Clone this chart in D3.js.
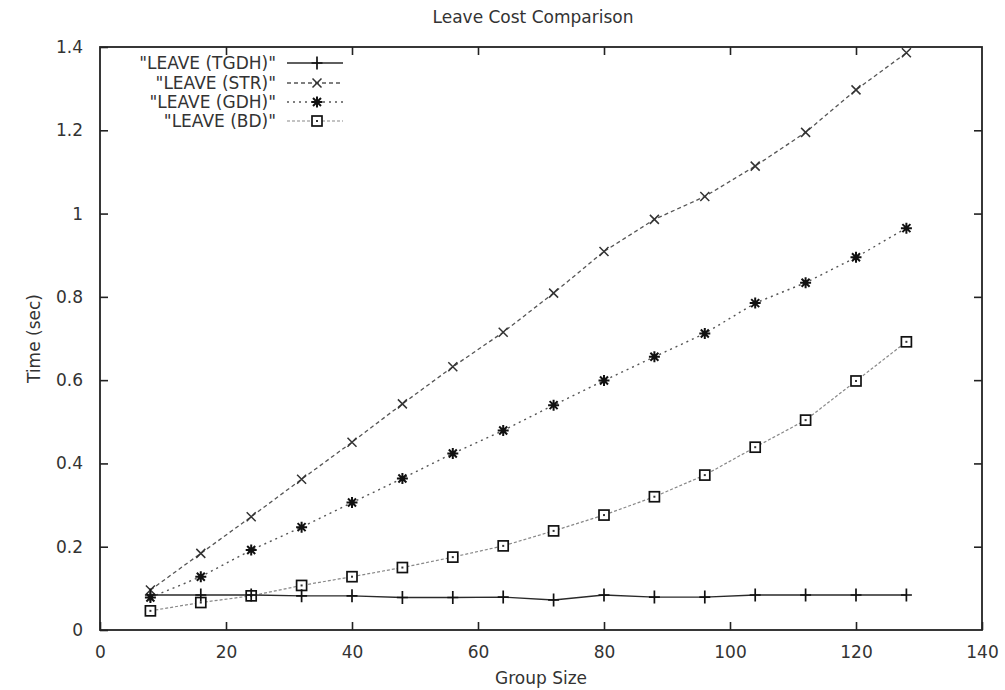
<!DOCTYPE html>
<html>
<head>
<meta charset="utf-8">
<script src="https://cdn.jsdelivr.net/npm/d3@7/dist/d3.min.js"></script>
<style>
  html, body { margin: 0; padding: 0; background: #fff; }
  svg text { font-family: "DejaVu Sans", sans-serif; fill: #333; }
</style>
</head>
<body>
<svg id="chart" width="1005" height="690"></svg>
<script>
// Group sizes measured
const groupSizes = [8, 16, 24, 32, 40, 48, 56, 64, 72, 80, 88, 96, 104, 112, 120, 128];

// Leave time (seconds) per protocol
const leaveTGDH = [0.084, 0.084, 0.084, 0.082, 0.082, 0.078, 0.078, 0.079, 0.072, 0.084, 0.079, 0.079, 0.084, 0.084, 0.084, 0.084];
const leaveSTR  = [0.096, 0.184, 0.272, 0.362, 0.451, 0.543, 0.632, 0.715, 0.809, 0.909, 0.986, 1.041, 1.114, 1.195, 1.297, 1.386];
const leaveGDH  = [0.078, 0.128, 0.192, 0.247, 0.306, 0.364, 0.424, 0.479, 0.540, 0.599, 0.656, 0.712, 0.785, 0.834, 0.895, 0.965];
const leaveBD   = [0.046, 0.066, 0.082, 0.107, 0.128, 0.150, 0.175, 0.202, 0.238, 0.276, 0.320, 0.372, 0.439, 0.504, 0.598, 0.692];

const xTicks = [0, 20, 40, 60, 80, 100, 120, 140];
const yTicks = [0, 0.2, 0.4, 0.6, 0.8, 1, 1.2, 1.4];

const titleText = "Leave Cost Comparison";
const xLabel = "Group Size";
const yLabel = "Time (sec)";

const series = [
  { name: "\"LEAVE (TGDH)\"", values: leaveTGDH, marker: "plus",   stroke: "#2a2a2a", dash: null,  width: 1.4 },
  { name: "\"LEAVE (STR)\"",  values: leaveSTR,  marker: "cross",  stroke: "#555",    dash: "4,3", width: 1.3 },
  { name: "\"LEAVE (GDH)\"",  values: leaveGDH,  marker: "star",   stroke: "#555",    dash: "2,4", width: 1.4 },
  { name: "\"LEAVE (BD)\"",   values: leaveBD,   marker: "square", stroke: "#888",    dash: "3,2", width: 1.2 }
];

const svg = d3.select("#chart");
const plotLeft = 100, plotRight = 982, plotTop = 47, plotBottom = 630;

const x = d3.scaleLinear().domain([0, 140]).range([plotLeft, plotRight]);
const y = d3.scaleLinear().domain([0, 1.4]).range([plotBottom, plotTop]);

const fontSize = 17;
const tickLen = 8;

// Title
svg.append("text")
  .attr("x", (plotLeft + plotRight) / 2 - 8).attr("y", 23)
  .attr("text-anchor", "middle").attr("font-size", fontSize)
  .text(titleText);

// Axes with inward ticks, mirrored on the opposite sides
const axisBottom = d3.axisBottom(x).tickValues(xTicks).tickSize(-tickLen).tickPadding(tickLen + 8).tickFormat(d3.format("d"));
const axisTop = d3.axisTop(x).tickValues(xTicks.slice(1, -1)).tickSize(-tickLen).tickFormat("");
const axisLeft = d3.axisLeft(y).tickValues(yTicks).tickSize(-tickLen).tickPadding(tickLen + 9).tickFormat(d3.format("~g"));
const axisRight = d3.axisRight(y).tickValues(yTicks.slice(1, -1)).tickSize(-tickLen).tickFormat("");

function styleAxis(g) {
  g.select(".domain").remove();
  g.selectAll(".tick line").attr("stroke", "#222").attr("stroke-width", 1.6);
  g.selectAll(".tick text").attr("font-size", fontSize).attr("fill", "#333")
    .style("font-family", "\"DejaVu Sans\", sans-serif");
}

svg.append("g").attr("transform", `translate(0,${plotBottom})`).call(axisBottom).call(styleAxis);
svg.append("g").attr("transform", `translate(0,${plotTop})`).call(axisTop).call(styleAxis);
svg.append("g").attr("transform", `translate(${plotLeft},0)`).call(axisLeft).call(styleAxis);
svg.append("g").attr("transform", `translate(${plotRight},0)`).call(axisRight).call(styleAxis);

// Plot border
svg.append("rect")
  .attr("x", plotLeft).attr("y", plotTop)
  .attr("width", plotRight - plotLeft).attr("height", plotBottom - plotTop)
  .attr("fill", "none").attr("stroke", "#222").attr("stroke-width", 1.8);

// Axis titles
svg.append("text")
  .attr("x", (plotLeft + plotRight) / 2).attr("y", 684)
  .attr("text-anchor", "middle").attr("font-size", fontSize)
  .text(xLabel);

svg.append("text")
  .attr("transform", `translate(40,${(plotTop + plotBottom) / 2}) rotate(-90)`)
  .attr("text-anchor", "middle").attr("font-size", fontSize)
  .text(yLabel);

// Point markers
function drawMarker(g, type, cx, cy) {
  const s = 5.5;
  const stroke = "#111";
  if (type === "plus") {
    g.append("path").attr("d", `M${cx - s},${cy}H${cx + s}M${cx},${cy - s - 1}V${cy + s + 1}`)
      .attr("stroke", stroke).attr("stroke-width", 1.7).attr("fill", "none");
  } else if (type === "cross") {
    const c = 4.5;
    g.append("path").attr("d", `M${cx - c},${cy - c}L${cx + c},${cy + c}M${cx - c},${cy + c}L${cx + c},${cy - c}`)
      .attr("stroke", "#333").attr("stroke-width", 1.5).attr("fill", "none");
  } else if (type === "star") {
    const c = 4;
    g.append("path").attr("d",
      `M${cx - s},${cy}H${cx + s}M${cx},${cy - s}V${cy + s}` +
      `M${cx - c},${cy - c}L${cx + c},${cy + c}M${cx - c},${cy + c}L${cx + c},${cy - c}`)
      .attr("stroke", stroke).attr("stroke-width", 2).attr("fill", "none");
  } else if (type === "square") {
    const h = 5;
    g.append("rect").attr("x", cx - h).attr("y", cy - h).attr("width", 2 * h).attr("height", 2 * h)
      .attr("fill", "#fff").attr("stroke", stroke).attr("stroke-width", 1.7);
    g.append("rect").attr("x", cx - 1).attr("y", cy - 1).attr("width", 2).attr("height", 2)
      .attr("fill", "#333");
  }
}

const line = d3.line().x(d => x(d[0])).y(d => y(d[1]));

// Draw series back to front: BD, GDH, STR, TGDH
const plotG = svg.append("g");
series.slice().reverse().forEach(s => {
  const pts = groupSizes.map((g, i) => [g, s.values[i]]);
  plotG.append("path").datum(pts)
    .attr("d", line)
    .attr("fill", "none")
    .attr("stroke", s.stroke)
    .attr("stroke-width", s.width)
    .attr("stroke-dasharray", s.dash);
  const mg = plotG.append("g");
  pts.forEach(p => drawMarker(mg, s.marker, x(p[0]), y(p[1])));
});

// Legend in the top-left corner
const legendTextRight = 276;
const legendLineX0 = 287, legendLineX1 = 343;
const legendRowY = [63, 83, 102, 121];
const legend = svg.append("g");
series.forEach((s, i) => {
  const yy = legendRowY[i];
  legend.append("text")
    .attr("x", legendTextRight).attr("y", yy + 6)
    .attr("text-anchor", "end").attr("font-size", fontSize)
    .text(s.name);
  legend.append("line")
    .attr("x1", legendLineX0).attr("x2", legendLineX1)
    .attr("y1", yy).attr("y2", yy)
    .attr("stroke", s.stroke).attr("stroke-width", s.width)
    .attr("stroke-dasharray", s.dash);
  drawMarker(legend, s.marker, (legendLineX0 + legendLineX1) / 2 + 2, yy);
});
</script>
</body>
</html>
